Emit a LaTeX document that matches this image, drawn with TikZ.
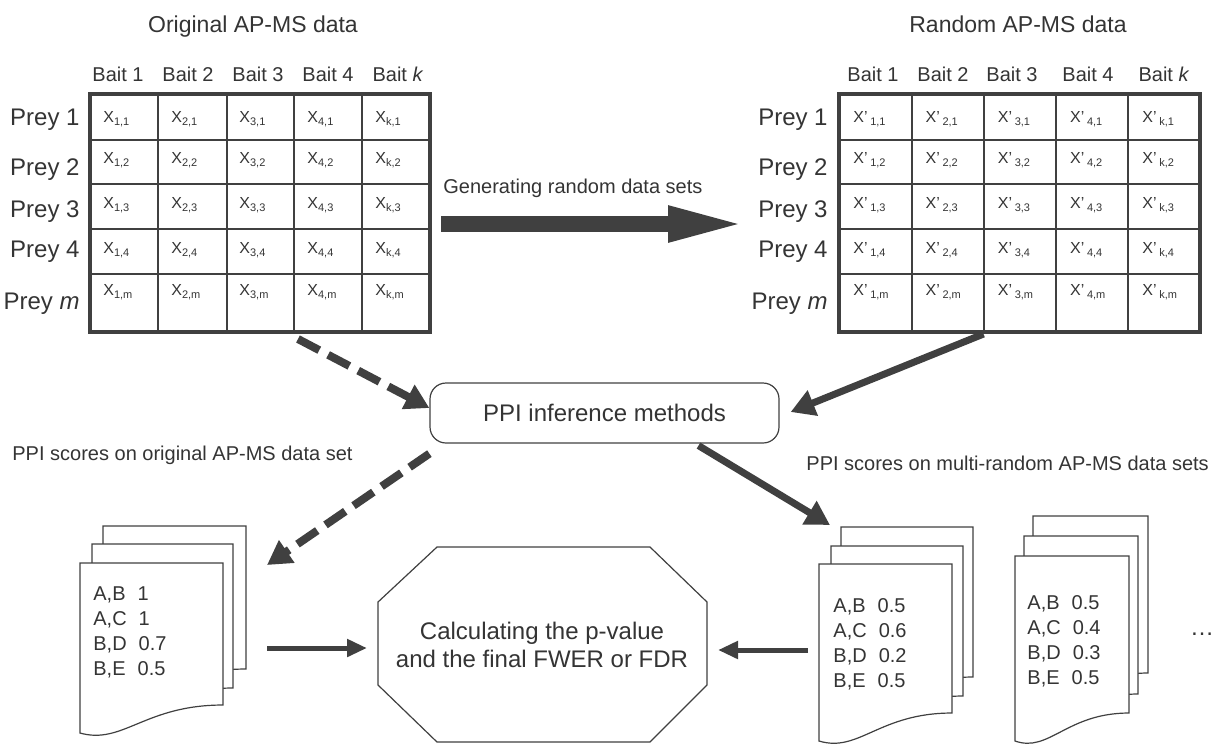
\documentclass[tikz,border=0pt]{standalone}
\usepackage{fontspec}
\setmainfont{Liberation Sans}
\usepackage{tikz}
\usetikzlibrary{arrows.meta}
\usetikzlibrary{calc}
\definecolor{darkline}{RGB}{64,64,64}
\definecolor{textgrey}{RGB}{52,52,52}
\newcommand{\xsub}[1]{X\raisebox{-0.45ex}{\fontsize{5.5}{6}\selectfont #1}}
\newcommand{\xpsub}[1]{X’\,\raisebox{-0.45ex}{\fontsize{5.5}{6}\selectfont #1}}
% x, y, width, height of the right edge
\newcommand{\docsheet}[4]{\filldraw[sheet] (#1,#2) -- (#1+#3,#2) -- (#1+#3,#2+#4)
    .. controls (#1+0.45*#3,#2+#4) and (#1+0.3*#3,#2+#4+40) .. (#1,#2+#4+28) -- cycle;}

\begin{document}
\begin{tikzpicture}[
    x=0.5pt, y=-0.5pt,
    every node/.style={text=textgrey, inner sep=0pt},
    grid line/.style={darkline, line width=1pt},
    table border/.style={draw=darkline, line width=2pt},
    sheet/.style={draw=darkline, fill=white, line width=0.6pt},
    method box/.style={draw=darkline, line width=0.6pt, rounded corners=8pt},
    title text/.style={font=\fontsize{11.5}{13}\selectfont, anchor=base},
    bait text/.style={font=\fontsize{10}{12}\selectfont, anchor=base},
    prey text/.style={font=\fontsize{12}{14}\selectfont, anchor=base east},
    cell text/.style={font=\fontsize{8}{9}\selectfont, anchor=base west},
    label text/.style={font=\fontsize{10}{12}\selectfont, anchor=base west},
    doc text/.style={font=\fontsize{10}{12.5}\selectfont, align=left, anchor=north west},
    big arrow/.style={darkline, line width=8pt, -{Triangle[length=40pt,width=16pt]}},
    flow arrow/.style={darkline, line width=3.5pt, -{Triangle[length=12pt,width=13pt]}},
    dashed arrow/.style={flow arrow, line width=4pt, dash pattern=on 12pt off 5pt},
    short arrow/.style={darkline, line width=2.5pt, -{Triangle[length=10pt,width=8.5pt]}}
    ]
    \useasboundingbox (0,0) rectangle (1218,746);

    % original data table
    \node[title text] (origtitle) at (253,32) {Original AP-MS data};
    \foreach \y in {140,184,229,274} \draw[grid line] (90,\y) -- (430,\y);
    \foreach \x in {158,227,294,362} \draw[grid line] (\x,94) -- (\x,332);
    \node[table border, minimum width=170pt, minimum height=119pt] (orig) at (260,213) {};
    \foreach \c/\lab [count=\i from 0] in {1/1,2/2,3/3,4/4,k/\textit{k}} {
        \node[bait text] (origbait-\c) at (118+70*\i,81) {Bait \lab};
        \foreach \r/\yb in {1/122,2/163,3/208,4/253,m/295}
            \node[cell text] (orig-\c-\r) at (103+68*\i,\yb) {\xsub{\c,\r}};
    }
    \foreach \r/\yb in {1/125,2/175,3/217,4/257}
        \node[prey text] (origprey-\r) at (80,\yb) {Prey \r};
    \node[prey text] (origprey-m) at (80,309) {Prey \textit{m}};

    % random data table
    \node[title text] (randtitle) at (1018,32) {Random AP-MS data};
    \foreach \y in {140,184,229,274} \draw[grid line] (839,\y) -- (1200,\y);
    \foreach \x in {912,984,1056,1128} \draw[grid line] (\x,94) -- (\x,332);
    \node[table border, minimum width=180.5pt, minimum height=119pt] (rand) at (1019.5,213) {};
    \foreach \c/\lab/\xb [count=\i from 0] in {1/1/873,2/2/943,3/3/1012,4/4/1088,k/\textit{k}/1164} {
        \node[bait text] (randbait-\c) at (\xb,81) {Bait \lab};
        \foreach \r/\yb in {1/122,2/163,3/208,4/253,m/295}
            \node[cell text] (rand-\c-\r) at (853+72.25*\i,\yb) {\xpsub{\c,\r}};
    }
    \foreach \r/\yb in {1/125,2/175,3/217,4/257}
        \node[prey text] (randprey-\r) at (828,\yb) {Prey \r};
    \node[prey text] (randprey-m) at (828,309) {Prey \textit{m}};

    % generating
    \node[label text] (genlabel) at (443,193) {Generating random data sets};
    \draw[big arrow] ($(orig.east)+(9,11)$) -- ($(rand.west)+(-89,11)$);

    % inference
    \node[method box, minimum width=174.5pt, minimum height=30pt, font=\fontsize{12}{14}\selectfont] (ppi) at (604.5,413) {PPI inference methods};
    \draw[dashed arrow] ($(orig.south)+(38,5)$) -- ($(ppi.west)+(0,-5)$);
    \draw[flow arrow] ($(rand.south)+(-36,0)$) -- ($(ppi.east)+(11,-1)$);

    % score sheets
    \node[label text] (origscores) at (12,460) {PPI scores on original AP-MS data set};
    \node[label text] (randscores) at (806,470) {PPI scores on multi-random AP-MS data sets};
    \docsheet{103}{526}{143}{143}
    \docsheet{92}{544}{141}{144}
    \docsheet{80}{563}{143}{142}
    \coordinate (sheetA) at (80,563);
    \node[doc text] (scoresA) at (93,586) {A,B\hspace{0.6em}1\\A,C\hspace{0.6em}1\\B,D\hspace{0.6em}0.7\\B,E\hspace{0.6em}0.5};
    \docsheet{841}{527}{132}{150}
    \docsheet{831}{546}{132}{150}
    \docsheet{819}{564}{133}{149}
    \coordinate (sheetB) at (819,564);
    \node[doc text] (scoresB) at (833,598) {A,B\hspace{0.6em}0.5\\A,C\hspace{0.6em}0.6\\B,D\hspace{0.6em}0.2\\B,E\hspace{0.6em}0.5};
    \docsheet{1033}{516}{115}{157}
    \docsheet{1024}{536}{114}{158}
    \docsheet{1015}{556}{114}{157}
    \coordinate (sheetC) at (1015,556);
    \node[doc text] (scoresC) at (1027,595) {A,B\hspace{0.6em}0.5\\A,C\hspace{0.6em}0.4\\B,D\hspace{0.6em}0.3\\B,E\hspace{0.6em}0.5};
    \node[font=\fontsize{12}{14}\selectfont, anchor=base] (more) at (1202,635) {\dots};
    \draw[dashed arrow] ($(ppi.south west)+(0,10)$) -- ($(sheetA)+(187,2)$);
    \draw[flow arrow] ($(ppi.south)+(94,2)$) -- ($(sheetB)+(11,-39)$);

    % p-value
    \draw[sheet] (437,547) -- (650,547) -- (707,602) -- (707,685) -- (650,742)
        -- (437,742) -- (378,685) -- (378,602) -- cycle;
    \node[font=\fontsize{12}{14}\selectfont, align=center] (pval) at (542,645) {Calculating the p-value\\and the final FWER or FDR};
    \draw[short arrow] ($(sheetA)+(187,85)$) -- ($(pval)+(-175,3)$);
    \draw[short arrow] ($(sheetB)+(-11,86)$) -- ($(pval)+(176,5)$);
\end{tikzpicture}
\end{document}
